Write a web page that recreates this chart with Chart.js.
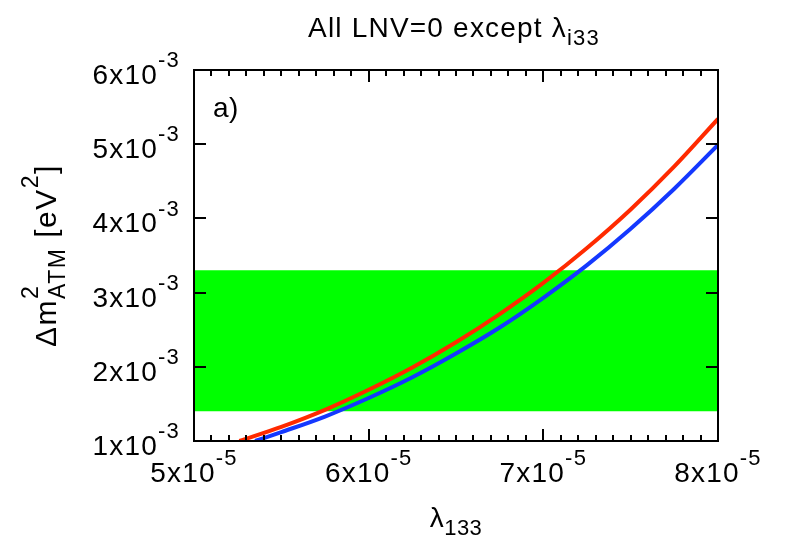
<!DOCTYPE html>
<html>
<head>
<meta charset="utf-8">
<script src="https://cdn.jsdelivr.net/npm/chart.js@4.4.0/dist/chart.umd.min.js"></script>
<style>
  body { margin: 0; background: #fff; }
  canvas { display: block; }
</style>
</head>
<body>
<canvas id="chart" width="788" height="541"></canvas>
<script>
// Valores (lambda_133 no eixo x, Delta m^2_ATM no eixo y)
const redLambda = [5.26e-5, 5.5e-5, 5.75e-5, 6.0e-5, 6.25e-5, 6.5e-5, 6.75e-5, 7.0e-5, 7.25e-5, 7.5e-5, 7.75e-5, 8.0e-5];
const redDm = [1.00e-3, 1.19e-3, 1.42e-3, 1.69e-3, 1.99e-3, 2.33e-3, 2.71e-3, 3.13e-3, 3.60e-3, 4.12e-3, 4.70e-3, 5.34e-3];
const blueLambda = [5.35e-5, 5.5e-5, 5.75e-5, 6.0e-5, 6.25e-5, 6.5e-5, 6.75e-5, 7.0e-5, 7.25e-5, 7.5e-5, 7.75e-5, 8.0e-5];
const blueDm = [1.00e-3, 1.12e-3, 1.33e-3, 1.58e-3, 1.86e-3, 2.18e-3, 2.53e-3, 2.93e-3, 3.37e-3, 3.86e-3, 4.40e-3, 4.99e-3];

// Faixa verde (intervalo permitido)
const bandLambda = [5e-5, 8e-5];
const bandLow = 1.4e-3;
const bandHigh = 3.3e-3;

// Rótulos dos ticks
const xTicks = [5e-5, 6e-5, 7e-5, 8e-5];
const xTickBase = ['5x10', '6x10', '7x10', '8x10'];
const xTickExp = '-5';
const yTicks = [1e-3, 2e-3, 3e-3, 4e-3, 5e-3, 6e-3];
const yTickBase = ['1x10', '2x10', '3x10', '4x10', '5x10', '6x10'];
const yTickExp = '-3';

const FONT = "'Liberation Sans', Arial, sans-serif";

const pts = (xs, ys) => xs.map((v, i) => ({ x: v, y: ys[i] }));

// Pedaços de texto: {t, kind: 'n' | 'sup' | 'sub', stack}; size = tamanho da fonte principal
function runWidth(ctx, parts, size) {
    let w = 0;
    let pending = 0;
    parts.forEach(p => {
        ctx.font = Math.round(p.kind === 'n' ? size : size * 0.78) + 'px ' + FONT;
        const pw = ctx.measureText(p.t).width;
        if (p.stack) { pending = pw; return; }
        w += Math.max(pw, pending);
        pending = 0;
    });
    return w + pending;
}

function drawRun(ctx, parts, x, y, size) {
    let cx = x;
    let pending = 0;
    parts.forEach(p => {
        ctx.font = Math.round(p.kind === 'n' ? size : size * 0.78) + 'px ' + FONT;
        const dy = p.kind === 'sup' ? -0.6 * size : (p.kind === 'sub' ? 0.29 * size : 0);
        ctx.fillText(p.t, cx, y + dy);
        const pw = ctx.measureText(p.t).width;
        if (p.stack) { pending = pw; return; }
        cx += Math.max(pw, pending);
        pending = 0;
    });
}

const isWhole = (v, unit) => Math.abs(v / unit - Math.round(v / unit)) < 1e-6;

const gnuplotFrame = {
    id: 'gnuplotFrame',
    afterDraw(chart) {
        const { ctx, chartArea: a, scales: { x, y } } = chart;
        ctx.save();
        ctx.strokeStyle = '#000';
        ctx.lineWidth = 2;

        // ticks para dentro, nos quatro lados
        ctx.beginPath();
        x.ticks.forEach(t => {
            const px = Math.round(x.getPixelForValue(t.value));
            const len = isWhole(t.value, 1e-5) ? 12 : 6;
            ctx.moveTo(px, a.bottom); ctx.lineTo(px, a.bottom - len);
            ctx.moveTo(px, a.top); ctx.lineTo(px, a.top + len);
        });
        y.ticks.forEach(t => {
            const py = Math.round(y.getPixelForValue(t.value));
            ctx.moveTo(a.left, py); ctx.lineTo(a.left + 12, py);
            ctx.moveTo(a.right, py); ctx.lineTo(a.right - 12, py);
        });
        ctx.stroke();
        ctx.strokeRect(a.left, a.top, a.right - a.left, a.bottom - a.top);

        ctx.fillStyle = '#000';
        ctx.textBaseline = 'alphabetic';
        ctx.textAlign = 'left';
        ctx.letterSpacing = '1.2px';

        // rótulos do eixo x
        xTicks.forEach((v, i) => {
            const parts = [{ t: xTickBase[i], kind: 'n' }, { t: xTickExp, kind: 'sup' }];
            const w = runWidth(ctx, parts, 28);
            drawRun(ctx, parts, x.getPixelForValue(v) - w / 2, a.bottom + 41, 28);
        });
        // rótulos do eixo y
        yTicks.forEach((v, i) => {
            const parts = [{ t: yTickBase[i], kind: 'n' }, { t: yTickExp, kind: 'sup' }];
            const w = runWidth(ctx, parts, 28);
            drawRun(ctx, parts, a.left - 14 - w, y.getPixelForValue(v) + 14, 28);
        });

        // título
        const title = [{ t: 'All LNV=0 except λ', kind: 'n' }, { t: 'i33', kind: 'sub' }];
        const cx = (a.left + a.right) / 2;
        drawRun(ctx, title, cx - runWidth(ctx, title, 28) / 2 - 2, 37, 28);

        // título do eixo x
        ctx.letterSpacing = '0.5px';
        const xt = [{ t: 'λ', kind: 'n' }, { t: '133', kind: 'sub' }];
        drawRun(ctx, xt, cx - runWidth(ctx, xt, 28) / 2, 527, 28);

        // título do eixo y (rotacionado)
        ctx.letterSpacing = '1.5px';
        const yt = [
            { t: 'Δm', kind: 'n' }, { t: '2', kind: 'sup', stack: true }, { t: 'ATM', kind: 'sub' },
            { t: ' [eV', kind: 'n' }, { t: '2', kind: 'sup' }, { t: ']', kind: 'n' }
        ];
        ctx.save();
        ctx.translate(56, (a.top + a.bottom) / 2);
        ctx.rotate(-Math.PI / 2);
        drawRun(ctx, yt, -runWidth(ctx, yt, 30) / 2, 0, 30);
        ctx.restore();

        // marcador do painel
        ctx.letterSpacing = '0.5px';
        ctx.font = '28px ' + FONT;
        ctx.fillText('a)', a.left + 19, a.top + 47);
        ctx.restore();
    }
};

new Chart(document.getElementById('chart'), {
    type: 'line',
    data: {
        datasets: [
            {
                data: pts(redLambda, redDm),
                borderColor: '#ff2a00',
                borderWidth: 4,
                pointRadius: 0,
                cubicInterpolationMode: 'monotone',
                fill: false
            },
            {
                data: pts(blueLambda, blueDm),
                borderColor: '#1438ff',
                borderWidth: 4,
                pointRadius: 0,
                cubicInterpolationMode: 'monotone',
                fill: false
            },
            {
                data: pts(bandLambda, [bandHigh, bandHigh]),
                borderWidth: 0,
                borderColor: 'rgba(0,0,0,0)',
                backgroundColor: '#00ff00',
                pointRadius: 0,
                fill: { value: bandLow }
            }
        ]
    },
    options: {
        responsive: false,
        animation: false,
        events: [],
        layout: { padding: { left: 186, right: 70, top: 70, bottom: 92 } },
        plugins: { legend: { display: false }, tooltip: { enabled: false }, title: { display: false } },
        scales: {
            x: {
                type: 'linear',
                min: 5e-5,
                max: 8e-5,
                grid: { display: false },
                border: { display: false },
                ticks: { display: false, stepSize: 1e-6, maxTicksLimit: 100 }
            },
            y: {
                type: 'linear',
                min: 1e-3,
                max: 6e-3,
                grid: { display: false },
                border: { display: false },
                ticks: { display: false, stepSize: 1e-3 }
            }
        }
    },
    plugins: [gnuplotFrame]
});
</script>
</body>
</html>
